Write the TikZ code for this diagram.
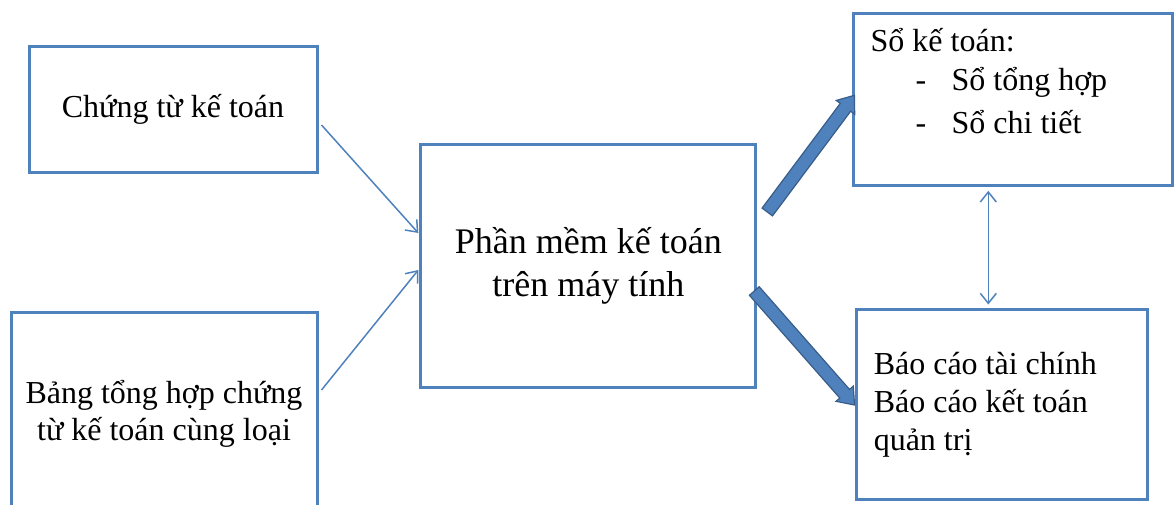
\documentclass[tikz,border=0pt]{standalone}
\usepackage{fontspec}
\setmainfont{Liberation Serif}
\usetikzlibrary{arrows.meta,calc}
\definecolor{boxblue}{HTML}{4F81BD}
\definecolor{edgeblue}{HTML}{385D8A}
% block arrow from coordinate #1 to coordinate #2
\newcommand{\blockarrow}[2]{%
  \coordinate (hb) at ($(#2)!15pt!(#1)$);
  \draw[flowshape]
    ($(#1)!6.5pt!90:(#2)$) -- ($(hb)!6.5pt!90:(#2)$) -- ($(hb)!11.5pt!90:(#2)$)
    -- (#2) -- ($(hb)!11.5pt!-90:(#2)$) -- ($(hb)!6.5pt!-90:(#2)$)
    -- ($(#1)!6.5pt!-90:(#2)$) -- cycle;}
\begin{document}
\begin{tikzpicture}[x=1pt,y=-1pt,
  box/.style={draw=boxblue, line width=3pt, rectangle, inner sep=0pt,
    align=center, font=\fontsize{32}{37}\selectfont},
  bigbox/.style={box, font=\fontsize{36}{43}\selectfont},
  txt/.style={anchor=base west, inner sep=0pt, font=\fontsize{32}{37}\selectfont},
  feed/.style={draw=boxblue, line width=1.5pt,
    -{Straight Barb[length=10pt,width=16pt]}},
  flowshape/.style={fill=boxblue, draw=edgeblue, line width=1.2pt, line join=miter},
  link/.style={draw=boxblue, line width=1.5pt,
    {Straight Barb[length=10pt,width=16pt]}-{Straight Barb[length=10pt,width=16pt]}}]
\useasboundingbox (0,0) rectangle (1176,504);
\clip (0,0) rectangle (1176,504);

% boxes
\node[box, minimum width=288pt, minimum height=126pt] (A) at (173,109.5)
  {Chứng từ kế toán};
\node[box, minimum width=306pt, minimum height=203pt] (B) at (164,414)
  {Bảng tổng hợp chứng\\từ kế toán cùng loại};
\node[bigbox, minimum width=335pt, minimum height=243.5pt] (C) at (588.3,266)
  {Phần mềm kế toán\\trên máy tính};
\node[box, minimum width=318.7pt, minimum height=172pt] (D) at (1013.3,99.3) {};
\node[box, minimum width=291.3pt, minimum height=190pt] (E) at (1001.7,404) {};

% ledger list
\node[txt] (d0) at ([shift={(18,39.7)}]D.north west) {Sổ kế toán:};
\node[txt] (d1) at ([shift={(63,78.7)}]D.north west)
  {\makebox[36pt][l]{-}Sổ tổng hợp};
\node[txt] (d2) at ([shift={(63,121.7)}]D.north west)
  {\makebox[36pt][l]{-}Sổ chi tiết};

% reports
\node[txt] (e1) at ([shift={(19,67)}]E.north west) {Báo cáo tài chính};
\node[txt] (e2) at ([shift={(19,105)}]E.north west) {Báo cáo kết toán};
\node[txt] (e3) at ([shift={(19,143)}]E.north west) {quản trị};

% inputs
\draw[feed] ([shift={(3,15.5)}]A.east) -- ([shift={(-1,-33)}]C.west);
\draw[feed] ([shift={(3,-24)}]B.east) -- ([shift={(-1,4)}]C.west);

% outputs
\coordinate (u0) at ([shift={(10,-54)}]C.east);
\coordinate (u1) at ([shift={(2,-4)}]D.west);
\blockarrow{u0}{u1}
\coordinate (w0) at ([shift={(-3,25)}]C.east);
\coordinate (w1) at ([shift={(0,1)}]E.west);
\blockarrow{w0}{w1}

% link between ledgers and reports
\coordinate (lt) at ([shift={(-25,4)}]D.south);
\path (E.north -| lt) ++(0,-3) coordinate (lb);
\draw[link] (lt) -- (lb);
\end{tikzpicture}
\end{document}
